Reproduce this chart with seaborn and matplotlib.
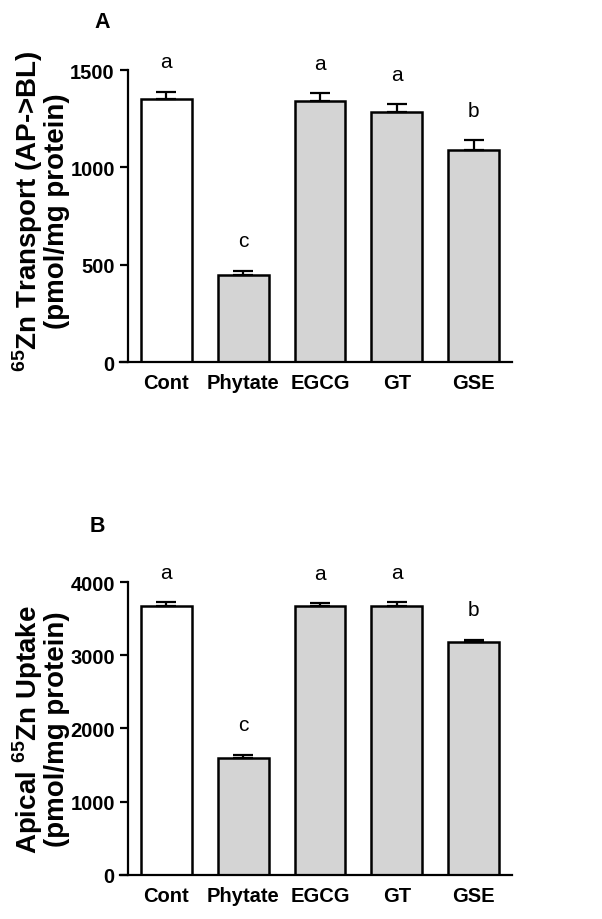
import pandas as pd
import seaborn as sns
import matplotlib.pyplot as plt

sns.set_style('ticks', {'axes.edgecolor': 'black', 'text.color': 'black',
                        'axes.labelcolor': 'black', 'xtick.color': 'black',
                        'ytick.color': 'black'})
plt.rcParams['font.family'] = ['Liberation Sans', 'DejaVu Sans']
plt.rcParams['mathtext.fontset'] = 'custom'
plt.rcParams['mathtext.rm'] = 'Liberation Sans:bold'
plt.rcParams['mathtext.bf'] = 'Liberation Sans:bold'

# data
groups = ['Cont', 'Phytate', 'EGCG', 'GT', 'GSE']
transport = [1351, 447, 1341, 1286, 1091]
transport_err = [38, 22, 40, 40, 48]
uptake = [3680, 1592, 3680, 3680, 3179]
uptake_err = [45, 50, 35, 45, 35]
sig_letters = ['a', 'c', 'a', 'a', 'b']
bar_colors = ['white', '#d4d4d4', '#d4d4d4', '#d4d4d4', '#d4d4d4']

fig = plt.figure(figsize=(6.02, 9.2), dpi=100)
ax_a = fig.add_axes([0.2126, 0.6054, 0.6379, 0.3174])
ax_b = fig.add_axes([0.2126, 0.0482, 0.6379, 0.3178])


def panel(ax, vals, errs, ymax, yticks, ylabel, label_y):
    df = pd.DataFrame({'group': groups, 'value': vals})
    sns.barplot(data=df, x='group', y='value', hue='group', palette=bar_colors,
                legend=False, width=0.66, edgecolor='black', linewidth=1.8,
                errorbar=None, ax=ax)
    ax.errorbar(range(len(groups)), vals, yerr=[[0] * len(errs), errs], fmt='none',
                ecolor='black', elinewidth=1.6, capsize=7.5, capthick=1.6, zorder=3)
    for i, (v, e, s) in enumerate(zip(vals, errs, sig_letters)):
        ax.annotate(s, (i, v + e), xytext=(0, 21.5), textcoords='offset points',
                    ha='center', va='center', fontsize=15, color='black',
                    annotation_clip=False)
    ax.set_xlim(-0.5, 4.5)
    ax.set_ylim(0, ymax)
    ax.set_yticks(yticks)
    sns.despine(ax=ax)
    for sp in ['left', 'bottom']:
        ax.spines[sp].set_linewidth(1.6)
        ax.spines[sp].set_color('black')
    ax.spines['bottom'].set_bounds(-0.6, 4.5)
    ax.tick_params(axis='y', length=6, width=1.6, pad=3.5, labelsize=14.5,
                   colors='black')
    ax.tick_params(axis='x', length=0, pad=8, labelsize=14.5, colors='black')
    for t in ax.get_xticklabels() + ax.get_yticklabels():
        t.set_fontweight('bold')
    ax.set_xlabel('')
    ax.set_ylabel(ylabel, fontsize=20, fontweight='bold', linespacing=0.95,
                  color='black')
    ax.yaxis.set_label_coords(-0.152, label_y)


panel(ax_a, transport, transport_err, 1500, [0, 500, 1000, 1500],
      '$^{65}$Zn Transport (AP->BL)\n(pmol/mg protein)', 0.52)
panel(ax_b, uptake, uptake_err, 4000, [0, 1000, 2000, 3000, 4000],
      'Apical $^{65}$Zn Uptake\n(pmol/mg protein)', 0.5)

fig.text(102 / 602, 1 - 22 / 920, 'A', fontsize=15.5, fontweight='bold',
         ha='center', va='center', color='black')
fig.text(97 / 602, 1 - 527 / 920, 'B', fontsize=15.5, fontweight='bold',
         ha='center', va='center', color='black')

fig.savefig('out.png', dpi=100)
